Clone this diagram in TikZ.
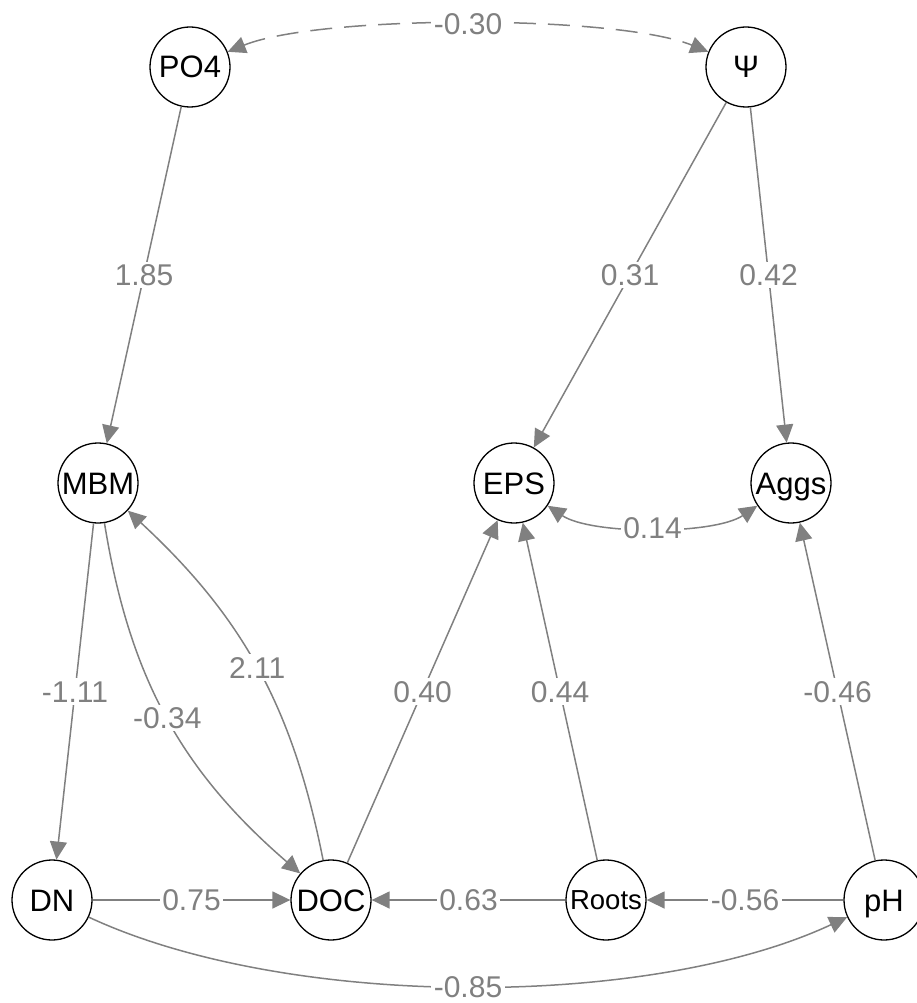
\documentclass[tikz,border=0pt]{standalone}
\usepackage{fontspec}
\setmainfont{Liberation Sans}
\usetikzlibrary{arrows.meta}
\definecolor{eg}{HTML}{808080}
\tikzset{
  var/.style={circle, draw=black, line width=1.3pt, fill=white, minimum size=80pt, inner sep=0pt, text height=22pt, text depth=0pt, font=\fontsize{31}{34}\selectfont},
  arr/.style={draw=eg, line width=1.5pt, -{Triangle[length=18pt,width=17pt]}},
  arrtwo/.style={draw=eg, line width=1.5pt, {Triangle[length=18pt,width=17pt]}-{Triangle[length=18pt,width=17pt]}},
  elab/.style={fill=white, text=eg, inner sep=2.5pt, text height=21.5pt, text depth=0pt, font=\fontsize{30}{34}\selectfont}
}
\begin{document}
\begin{tikzpicture}[x=1pt,y=1pt]
\useasboundingbox (0,0) rectangle (917,-1003);
\clip (0,0) rectangle (917,-1003);
\node[var] (PO4) at (190,-67) {PO4};
\node[var] (Psi) at (746,-67) {Ψ};
\node[var] (MBM) at (98,-483) {MBM};
\node[var] (EPS) at (514,-483) {EPS};
\node[var] (Aggs) at (791,-483) {Aggs};
\node[var] (DN) at (52,-900) {DN};
\node[var] (DOC) at (331,-900) {DOC};
\node[var, text height=19.5pt, font=\fontsize{27.5}{30}\selectfont] (Roots) at (606,-900) {Roots};
\node[var] (pH) at (884,-900) {pH};

\draw[arrtwo, dash pattern=on 22pt off 12pt] (PO4) to[out=22,in=158,looseness=0.53] node[elab]{-0.30} (Psi);
\draw[arr] (PO4) -- node[elab]{1.85} (MBM);
\draw[arr] (Psi) -- node[elab]{0.31} (EPS);
\draw[arr] (Psi) -- node[elab]{0.42} (Aggs);
\draw[arrtwo] (EPS) to[out=-34,in=-146,looseness=0.64] node[elab]{0.14} (Aggs);
\draw[arr] (MBM) -- node[elab]{-1.11} (DN);
\draw[arr] (MBM) to[bend right=20] node[elab]{-0.34} (DOC);
\draw[arr] (DOC) to[bend right=18] node[elab]{2.11} (MBM);
\draw[arr] (DOC) -- node[elab]{0.40} (EPS);
\draw[arr] (Roots) -- node[elab]{0.44} (EPS);
\draw[arr] (pH) -- node[elab]{-0.46} (Aggs);
\draw[arr] (DN) -- node[elab]{0.75} (DOC);
\draw[arr] (Roots) -- node[elab]{0.63} (DOC);
\draw[arr] (pH) -- node[elab]{-0.56} (Roots);
\draw[arr] (DN) to[out=-25,in=205,looseness=0.74] node[elab]{-0.85} (pH);
\end{tikzpicture}
\end{document}
